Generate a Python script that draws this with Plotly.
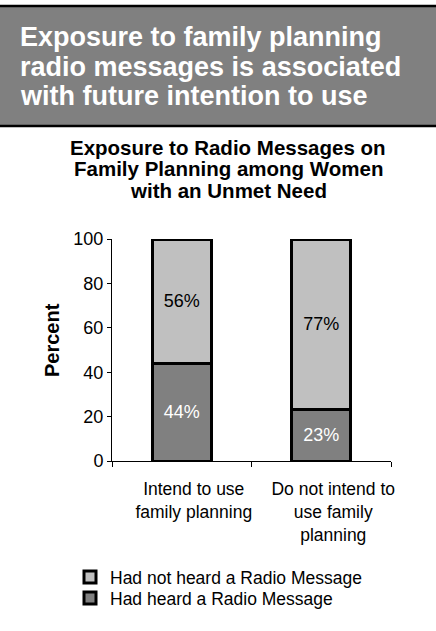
import plotly.graph_objects as go

# ---- data ----
categories = ["Intend to use<br>family planning", "Do not intend to<br>use family<br>planning"]
heard = [44, 23]
not_heard = [56, 77]
series_names = ["Had heard a Radio Message", "Had not heard a Radio Message"]
header_lines = ["Exposure to family planning",
                "radio messages is associated",
                "with future intention to use"]
title_lines = ["Exposure to Radio Messages on",
               "Family Planning among Women",
               "with an Unmet Need"]
y_title = "Percent"
y_ticks = [0, 20, 40, 60, 80, 100]

# ---- geometry (pixels) ----
W, H = 436, 631
L, R, T, B = 112, 391, 239, 461
PW, PH = R - L, B - T

def px(x):
    return (x - L) / PW

def py(y):
    return (B - y) / PH

FONT = "Liberation Sans, Arial, sans-serif"

fig = go.Figure()
fig.add_trace(go.Bar(
    x=categories, y=heard, name=series_names[0], legend="legend2",
    marker=dict(color="#808080", line=dict(color="black", width=3)),
    text=[f"{v}%" for v in heard], textposition="inside",
    insidetextanchor="middle", textangle=0,
    textfont=dict(color="white", size=18, family=FONT),
    width=0.42,
))
fig.add_trace(go.Bar(
    x=categories, y=not_heard, name=series_names[1], legend="legend",
    marker=dict(color="#C0C0C0", line=dict(color="black", width=3)),
    text=[f"{v}%" for v in not_heard], textposition="inside",
    insidetextanchor="middle", textangle=0,
    textfont=dict(color="black", size=18, family=FONT),
    width=0.42,
))

shapes = [
    dict(type="rect", xref="paper", yref="paper",
         x0=px(0), x1=px(W), y0=py(126), y1=py(6),
         fillcolor="#808080", line=dict(width=0), layer="below"),
    dict(type="line", xref="paper", yref="paper",
         x0=px(0), x1=px(W), y0=py(6), y1=py(6),
         line=dict(color="black", width=2.5)),
    dict(type="line", xref="paper", yref="paper",
         x0=px(0), x1=px(W), y0=py(126), y1=py(126),
         line=dict(color="black", width=2.5)),
]

annotations = []
for line, yc in zip(header_lines, [37, 67, 96]):
    annotations.append(dict(
        text=f"<b>{line}</b>", xref="paper", yref="paper",
        x=px(18), y=py(yc), xanchor="left", yanchor="middle",
        showarrow=False, font=dict(color="white", size=27, family=FONT)))
for line, yc in zip(title_lines, [147, 169, 190]):
    annotations.append(dict(
        text=f"<b>{line}</b>", xref="paper", yref="paper",
        x=px(228), y=py(yc), xanchor="center", yanchor="middle",
        showarrow=False, font=dict(color="black", size=20.5, family=FONT)))
annotations.append(dict(
    text=f"<b>{y_title}</b>", xref="paper", yref="paper",
    x=px(52), y=py(340), xanchor="center", yanchor="middle",
    textangle=-90, showarrow=False,
    font=dict(color="black", size=20, family=FONT)))

legend_common = dict(
    orientation="v", xanchor="left", yanchor="top",
    font=dict(size=17.5, family=FONT, color="black"),
    bgcolor="rgba(0,0,0,0)",
)

fig.update_layout(
    width=W, height=H,
    margin=dict(l=L, r=W - R, t=T, b=H - B, pad=0, autoexpand=False),
    barmode="stack",
    paper_bgcolor="white", plot_bgcolor="white",
    font=dict(family=FONT, color="black"),
    showlegend=True,
    legend=dict(x=px(70), y=py(559), **legend_common),
    legend2=dict(x=px(70), y=py(580), **legend_common),
    xaxis=dict(
        automargin=False,
        showline=True, linecolor="black", linewidth=1,
        ticks="outside", tickson="boundaries", ticklen=5,
        tickcolor="black", tickwidth=1,
        tickfont=dict(size=17.5, family=FONT, color="black"),
        ticklabelshift=12, ticklabelstandoff=12, tickangle=0,
        showgrid=False, zeroline=False,
    ),
    yaxis=dict(
        automargin=False,
        range=[0, 100], tickvals=y_ticks,
        showline=True, linecolor="black", linewidth=1,
        ticks="outside", ticklen=4, tickcolor="black", tickwidth=1,
        tickfont=dict(size=18, family=FONT, color="black"),
        showgrid=False, zeroline=False,
    ),
    shapes=shapes,
    annotations=annotations,
)

fig.write_html("out.html")
